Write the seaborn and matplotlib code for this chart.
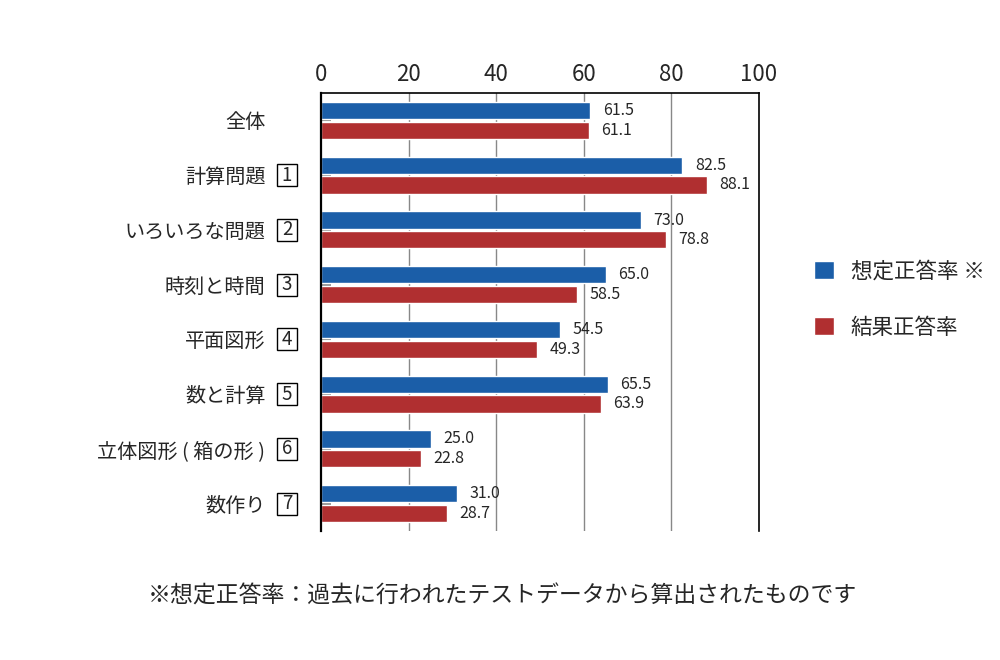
import pandas as pd
import matplotlib.pyplot as plt
import matplotlib.transforms as mtransforms
from matplotlib.patches import Patch, Rectangle
import seaborn as sns

categories = ['全体', '計算問題', 'いろいろな問題', '時刻と時間', '平面図形',
              '数と計算', '立体図形 ( 箱の形 )', '数作り']
box_nums = ['', '1', '2', '3', '4', '5', '6', '7']
expected = [61.5, 82.5, 73.0, 65.0, 54.5, 65.5, 25.0, 31.0]
actual = [61.1, 88.1, 78.8, 58.5, 49.3, 63.9, 22.8, 28.7]
series = ['想定正答率', '結果正答率']

df = pd.DataFrame({
    'Category': categories * 2,
    'Series': [series[0]] * len(categories) + [series[1]] * len(categories),
    'Value': expected + actual,
})

sns.set_style('white')
plt.rcParams['font.family'] = ['Noto Sans CJK JP', 'DejaVu Sans']

blue = '#1b5ea8'
red = '#b02f30'

fig = plt.figure(figsize=(10, 6.6), dpi=100)
ax = fig.add_axes([0.321, 0.1955, 0.438, 0.6636])

sns.barplot(data=df, y='Category', x='Value', hue='Series', orient='h',
            palette=[blue, red], saturation=1, width=0.72, gap=0.13, ax=ax,
            legend=False)

for cont in ax.containers:
    ax.bar_label(cont, fmt='%.1f', padding=9, fontsize=11.5)

ax.set_xlim(0, 100)
ax.set_xticks([0, 20, 40, 60, 80, 100])
ax.xaxis.tick_top()
ax.tick_params(axis='x', length=0, labelsize=16, pad=5)
ax.set_xlabel('')
ax.set_ylabel('')
# vertical grid behind bars, ticks above them
ax.grid(False)
for gx in [20, 40, 60, 80]:
    ax.axvline(gx, color='#888888', linewidth=1, zorder=0)

ax.tick_params(axis='y', left=True, direction='in', length=7, width=1.5,
               color='#888888', labelsize=14.5, pad=40)
for s in ['left', 'top', 'right']:
    ax.spines[s].set_color('black')
    ax.spines[s].set_linewidth(1.2)
ax.spines['left'].set_linewidth(1.6)
ax.spines['bottom'].set_visible(False)

# boxed item numbers
trans = mtransforms.blended_transform_factory(fig.transFigure, ax.transData)
for i, n in enumerate(box_nums):
    if n:
        ax.add_patch(Rectangle((0.277, i - 0.2), 0.020, 0.4, transform=trans,
                               fill=False, ec='black', lw=1, clip_on=False))
        ax.text(0.287, i, n, transform=trans, ha='center', va='center',
                fontsize=13.5, clip_on=False)

handles = [Patch(facecolor=blue), Patch(facecolor=red)]
fig.legend(handles, [series[0] + ' ※', series[1]], loc='upper left',
           bbox_to_anchor=(0.795, 0.635), frameon=False, fontsize=15.5,
           handlelength=0.9, handleheight=0.9, labelspacing=1.6, handletextpad=0.8)

fig.text(0.502, 0.097, '※想定正答率：過去に行われたテストデータから算出されたものです',
         ha='center', va='center', fontsize=16.5)

plt.savefig('out.png', dpi=100)
